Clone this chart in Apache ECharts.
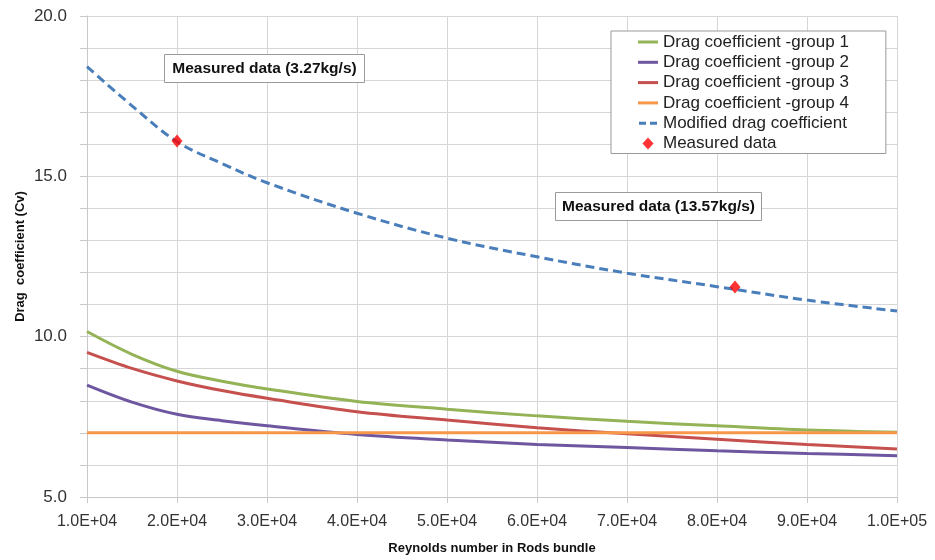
<!DOCTYPE html>
<html>
<head>
<meta charset="utf-8">
<script src="https://cdn.jsdelivr.net/npm/echarts@6/dist/echarts.min.js"></script>
<style>html,body{margin:0;padding:0;background:#fff}#c{width:935px;height:560px}</style>
</head>
<body>
<div id="c"></div>
<script>
var reynolds = [10000, 15000, 20000, 25000, 30000, 40000, 50000, 60000, 70000, 80000, 90000, 100000];
var group1 = [10.16, 9.45, 8.92, 8.61, 8.37, 7.98, 7.74, 7.53, 7.36, 7.22, 7.09, 7.02];
var group2 = [8.49, 7.96, 7.58, 7.38, 7.22, 6.95, 6.78, 6.64, 6.54, 6.44, 6.36, 6.29];
var group3 = [9.51, 9.01, 8.62, 8.32, 8.08, 7.66, 7.40, 7.16, 6.97, 6.80, 6.64, 6.50];
var group4 = [7.0, 7.0, 7.0, 7.0, 7.0, 7.0, 7.0, 7.0, 7.0, 7.0, 7.0, 7.0];
var modified = [18.42, 17.2, 16.08, 15.40, 14.80, 13.85, 13.07, 12.49, 11.98, 11.56, 11.14, 10.80];
var measuredRe = [20000, 82000];
var measuredCv = [16.1, 11.55];
var seriesNames = ['Drag coefficient -group 1', 'Drag coefficient -group 2', 'Drag coefficient -group 3', 'Drag coefficient -group 4', 'Modified drag coefficient', 'Measured data'];
var annotations = ['Measured data (3.27kg/s)', 'Measured data (13.57kg/s)'];

var FONT = "'Liberation Sans', Arial, sans-serif";
function pairs(xs, ys) { return xs.map(function (x, i) { return [x, ys[i]]; }); }
function sci(v) {
  var e = Math.floor(Math.log10(v) + 1e-9);
  var m = v / Math.pow(10, e);
  return m.toFixed(1) + 'E+' + (e < 10 ? '0' + e : e);
}
function lineSeries(name, ys, color, dashed) {
  return {
    name: name, type: 'line', data: pairs(reynolds, ys), smooth: 0.35,
    symbol: 'none', showSymbol: false,
    lineStyle: { color: color, width: 3, type: dashed ? [9, 5] : 'solid' },
    itemStyle: { color: color }, z: dashed ? 3 : 2
  };
}
var solidIcon = 'path://M0,0 M20,14 M0,5.5 L20,5.5 L20,8.5 L0,8.5 Z';
var dashIcon = 'path://M0,0 M20,14 M1,5.5 L8,5.5 L8,8.5 L1,8.5 Z M12,5.5 L19,5.5 L19,8.5 L12,8.5 Z';
var diamondIcon = 'path://M0,0 M20,14 M10,1 L15.5,7 L10,13 L4.5,7 Z';
var legendColors = ['#93b356', '#6e56a0', '#c6504d', '#f6974a', '#4a7ebb', '#ff0000'];
var legendData = seriesNames.map(function (n, i) {
  return { name: n, icon: i < 4 ? solidIcon : (i === 4 ? dashIcon : diamondIcon), itemStyle: { color: legendColors[i], borderWidth: 0 } };
});

var chart = echarts.init(document.getElementById('c'), null, { renderer: 'canvas' });
chart.setOption({
  animation: false,
  backgroundColor: '#ffffff',
  grid: { left: 87, right: 38, top: 16, bottom: 63, containLabel: false },
  xAxis: {
    type: 'value', min: 10000, max: 100000, interval: 10000,
    name: 'Reynolds number in Rods bundle', nameLocation: 'middle', nameGap: 45,
    nameMoveOverlap: false,
    nameTextStyle: { fontFamily: FONT, fontWeight: 'bold', fontSize: 13, color: '#111' },
    axisLine: { show: true, lineStyle: { color: '#c8c8c8', width: 1 } },
    axisTick: { show: true, inside: false, length: 6, lineStyle: { color: '#c8c8c8' } },
    axisLabel: { formatter: sci, fontFamily: FONT, fontSize: 16, color: '#333', margin: 17 },
    splitLine: { show: true, lineStyle: { color: '#d6d6d6', width: 1 } }
  },
  yAxis: {
    type: 'value', min: 5, max: 20, interval: 1,
    name: 'Drag  coefficient (Cv)', nameLocation: 'middle', nameGap: 60,
    nameMoveOverlap: false,
    nameTextStyle: { fontFamily: FONT, fontWeight: 'bold', fontSize: 13, color: '#111' },
    axisLine: { show: true, lineStyle: { color: '#c8c8c8', width: 1 } },
    axisTick: { show: true, inside: false, length: 7, lineStyle: { color: '#c8c8c8' } },
    axisLabel: {
      formatter: function (v) { return (Math.abs(v % 5) < 1e-9) ? v.toFixed(1) : ''; },
      fontFamily: FONT, fontSize: 17, color: '#333', margin: 20
    },
    splitLine: { show: true, lineStyle: { color: '#d6d6d6', width: 1 } }
  },
  legend: {
    orient: 'vertical', left: 611, top: 31,
    padding: [2, 37, 1, 27],
    itemWidth: 20, itemHeight: 14, itemGap: 2.3,
    backgroundColor: '#ffffff', borderColor: '#9a9a9a', borderWidth: 1, borderRadius: 0,
    textStyle: { fontFamily: FONT, fontSize: 17, color: '#222', lineHeight: 18 },
    data: legendData,
    selectedMode: false
  },
  graphic: [
    { type: 'rect', shape: { x: 164.5, y: 54.5, width: 200, height: 28 }, style: { fill: '#fff', stroke: '#9a9a9a', lineWidth: 1 }, z: 10 },
    { type: 'text', x: 264.5, y: 69, style: { text: annotations[0], font: 'bold 15.5px ' + FONT, fill: '#111', align: 'center', verticalAlign: 'middle' }, z: 11 },
    { type: 'rect', shape: { x: 555.5, y: 192.5, width: 206, height: 28 }, style: { fill: '#fff', stroke: '#9a9a9a', lineWidth: 1 }, z: 10 },
    { type: 'text', x: 658.5, y: 207, style: { text: annotations[1], font: 'bold 15.5px ' + FONT, fill: '#111', align: 'center', verticalAlign: 'middle' }, z: 11 }
  ],
  series: [
    lineSeries(seriesNames[0], group1, '#93b356', false),
    lineSeries(seriesNames[1], group2, '#6e56a0', false),
    lineSeries(seriesNames[2], group3, '#c6504d', false),
    lineSeries(seriesNames[3], group4, '#f6974a', false),
    lineSeries(seriesNames[4], modified, '#4a7ebb', true),
    {
      name: seriesNames[5], type: 'scatter', data: pairs(measuredRe, measuredCv),
      symbol: 'diamond', symbolSize: [11, 13], itemStyle: { color: '#ff0000' }, z: 5
    }
  ]
});
</script>
</body>
</html>
